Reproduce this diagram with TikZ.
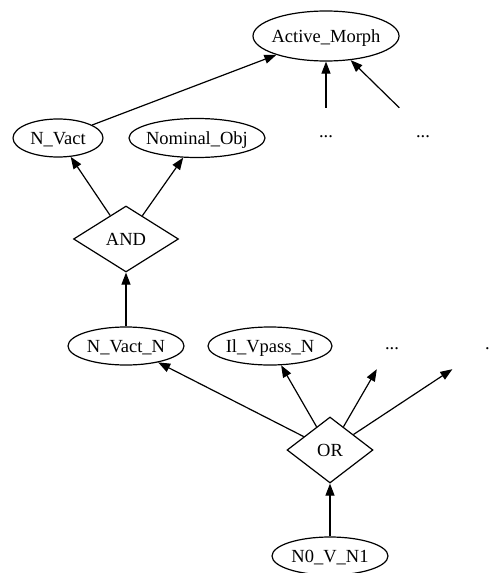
\documentclass[tikz,border=0pt]{standalone}
\usepackage{fontspec}
\setmainfont{Liberation Serif}
\usetikzlibrary{shapes.geometric,arrows.meta}
\begin{document}
\begin{tikzpicture}[x=1pt,y=-1pt,
  every node/.style={font=\fontsize{18.5}{22}\selectfont, text height=16pt, text depth=4pt},
  oval/.style={ellipse, draw, line width=1.2pt, inner xsep=-6pt, inner ysep=0pt},
  gate/.style={diamond, draw, line width=1.2pt, inner sep=0pt},
  dots/.style={rectangle, inner sep=0pt, minimum width=90pt},
  link/.style={-{Triangle[length=12pt,width=9pt]}, line width=1.2pt}]
\fill[white] (0,0) rectangle (489,573);
\useasboundingbox (0,0) rectangle (489,573);
\node[oval, minimum width=146pt, minimum height=50pt] (am) at (326,36) {Active\_Morph};
\node[oval, minimum width=90pt, minimum height=38pt] (nv) at (58,138) {N\_Vact};
\node[oval, minimum width=136pt, minimum height=39pt] (no) at (197,138) {Nominal\_Obj};
\node[dots, minimum height=46pt] (d1) at (326,131) {...};
\node[dots, minimum height=46pt] (d2) at (423,131) {...};
\node[gate, minimum width=105pt, minimum height=66pt] (and) at (126,239) {AND};
\node[oval, minimum width=116pt, minimum height=38pt] (nvn) at (126,346) {N\_Vact\_N};
\node[oval, minimum width=124pt, minimum height=38pt] (ivp) at (270,346) {Il\_Vpass\_N};
\node[dots, minimum height=52pt] (d3) at (392,343) {...};
\node[dots, minimum height=52pt] (d4) at (492,343) {\makebox[13.9pt][l]{.}};
\node[gate, minimum width=86pt, minimum height=66pt] (or) at (330,450) {OR};
\node[oval, minimum width=116pt, minimum height=38pt] (n0) at (330,556) {N0\_V\_N1};
\draw[link] (nv) -- (am);
\draw[link] (d1) -- (am);
\draw[link] (d2) -- (am);
\draw[link] (and) -- (nv);
\draw[link] (and) -- (no);
\draw[link] (nvn) -- (and);
\draw[link] (or) -- (nvn);
\draw[link] (or) -- (ivp);
\draw[link] (or) -- (d3);
\draw[link] (or) -- (d4);
\draw[link] (n0) -- (or);
\end{tikzpicture}
\end{document}
